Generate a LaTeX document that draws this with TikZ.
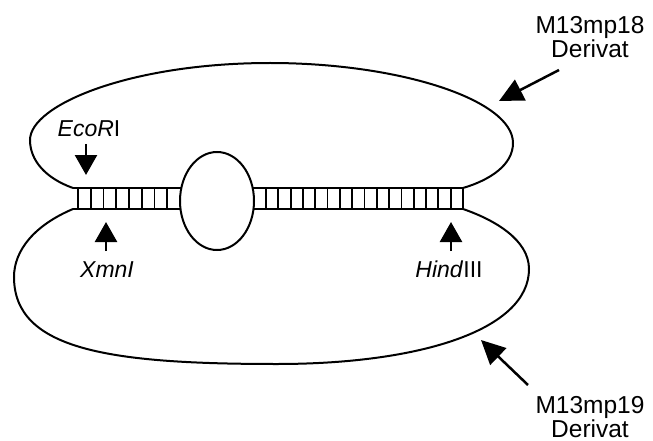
\documentclass[tikz,border=0pt]{standalone}
\usepackage{fontspec}
\setmainfont{Liberation Sans}
\usetikzlibrary{arrows.meta,shapes.geometric}
\begin{document}
\begin{tikzpicture}[x=1pt,y=-1pt,
  strand/.style={line width=2pt},
  rungline/.style={line width=1.8pt},
  cutarrow/.style={line width=2.5pt,-{Triangle[width=22pt,length=20pt]}},
  bigarrow/.style={line width=2.5pt,-{Triangle[width=23pt,length=24pt]}},
  enzlbl/.style={font=\fontsize{23}{26}\selectfont,anchor=base,inner sep=0pt},
  derivlbl/.style={font=\fontsize{24.5}{22}\selectfont,align=center,inner sep=0pt,anchor=north}]
\useasboundingbox (0,0) rectangle (653,441);

% upper loop (M13mp18 derivative)
\draw[strand] (73,188) .. controls (45,178) and (30,160) .. (30,140)
  .. controls (30,105) and (130,63) .. (270,63)
  .. controls (400,63) and (513,100) .. (513,143)
  .. controls (513,165) and (490,180) .. (463,188);

% lower loop (M13mp19 derivative)
\draw[strand] (73,209) .. controls (35,225) and (14,250) .. (14,277)
  .. controls (14,350) and (110,364) .. (277,364)
  .. controls (420,364) and (529,330) .. (529,269)
  .. controls (529,240) and (495,220) .. (463,209);

% bubble
\node[draw,ellipse,minimum width=74pt,minimum height=98pt,inner sep=0pt,line width=2pt] (bubble) at (217,201) {};

% ladder strands
\draw[strand] (73,188) -- (181.3,188);
\draw[strand] (73,209) -- (180.5,209);
\draw[strand] (252.7,188) -- (463,188);
\draw[strand] (253.5,209) -- (463,209);
\foreach \i in {0,...,7} \draw[rungline] ({78+12.75*\i},188) -- ({78+12.75*\i},209);
\foreach \i in {0,...,16} \draw[rungline] ({266+12.3125*\i},188) -- ({266+12.3125*\i},209);

% labels
\node[enzlbl] (eco) at (89,137) {\textit{EcoR}I};
\node[enzlbl] (xmn) at (107,277) {\textit{XmnI}};
\node[enzlbl] (hind) at (449,277) {\textit{Hind}III};
\node[derivlbl] (m18) at (590,16) {M13mp18\\Derivat};
\node[derivlbl] (m19) at (590,396) {M13mp19\\Derivat};

% arrows
\coordinate (ecoT) at (86,144);  \coordinate (ecoH) at (86,175);
\coordinate (xmnT) at (106,251); \coordinate (xmnH) at (106,222);
\coordinate (hindT) at (451,251); \coordinate (hindH) at (451,222);
\coordinate (m18T) at (559,70);  \coordinate (m18H) at (499,101);
\coordinate (m19T) at (528,385); \coordinate (m19H) at (481,340);
\draw[cutarrow] (ecoT) -- (ecoH);
\draw[cutarrow] (xmnT) -- (xmnH);
\draw[cutarrow] (hindT) -- (hindH);
\draw[bigarrow] (m18T) -- (m18H);
\draw[bigarrow] (m19T) -- (m19H);
\end{tikzpicture}
\end{document}
